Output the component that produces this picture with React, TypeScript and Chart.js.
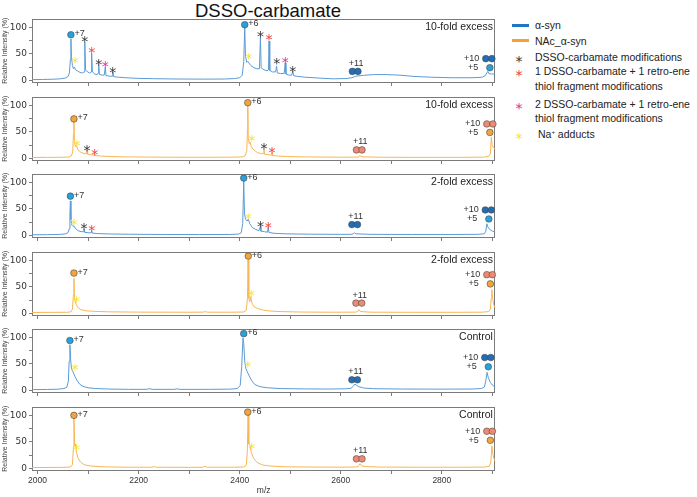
import { useEffect, useRef } from 'react';
import { Chart, registerables } from 'chart.js';

Chart.register(...registerables);

type Pt = [number, number];
type Star = [number, number, 'mod' | 'retro1' | 'retro2' | 'na'];
type Charge = { z: string; mz: number[]; y: number; side: 'right' | 'above' | 'left' };

// axis ranges and labelled ticks
const MZ_MIN = 1989;
const MZ_MAX = 2906;
const MZ_LABELLED = [2000, 2200, 2400, 2600, 2800];
const INTENSITY_LABELLED = [0, 50, 100];

// spectra: [m/z, relative intensity %]
const SPEC_ASYN_10X: Pt[] = [
  [1989, 1.5], [2010, 1.8], [2030, 2.2], [2045, 3], [2055, 4.5], [2060, 7], [2063, 14], [2065, 40], [2066, 78],
  [2067, 45], [2069, 28], [2071, 22], [2073, 25], [2075, 20], [2079, 18], [2084, 15], [2089, 14], [2092, 16],
  [2093.5, 72], [2095, 20], [2099, 16], [2103, 14], [2106, 16], [2107, 51], [2108.5, 16], [2113, 12], [2118, 11],
  [2120, 14], [2121, 30], [2122.5, 11], [2128, 10], [2132, 10], [2134, 25], [2135.5, 9], [2142, 8], [2148, 8],
  [2149, 16], [2150.5, 7], [2160, 6], [2175, 5], [2195, 4], [2230, 3.2], [2280, 2.6], [2330, 2.4], [2370, 2.6],
  [2390, 3.5], [2400, 5], [2405, 10], [2408, 35], [2410, 100], [2411.5, 45], [2414, 34], [2416, 36], [2418, 33],
  [2422, 28], [2428, 24], [2434, 22], [2439, 22], [2441, 82], [2442.5, 24], [2448, 20], [2454, 18], [2457, 20],
  [2458, 74], [2459.5, 19], [2465, 16], [2471, 16], [2473, 27], [2474.5, 14], [2481, 13], [2488, 13], [2490, 33],
  [2491.5, 12], [2497, 10], [2503, 10], [2505, 18], [2506.5, 9], [2515, 7.5], [2530, 6], [2555, 4.5], [2585, 3],
  [2610, 3.5], [2622, 5], [2630, 8], [2645, 9.5], [2665, 11], [2690, 11], [2715, 10], [2745, 7.5], [2780, 6],
  [2820, 5], [2860, 5], [2880, 6], [2886, 9], [2889, 14], [2891, 17], [2893, 13], [2898, 12], [2906, 12],
];
const SPEC_NAC_10X: Pt[] = [
  [1989, 1.8], [2020, 2], [2050, 2.2], [2062, 2.8], [2067, 5], [2069.5, 12], [2071, 45], [2072, 70], [2073, 32],
  [2075, 22], [2077, 24], [2080, 16], [2085, 12], [2092, 9], [2097, 9], [2098, 16], [2099, 8], [2106, 7],
  [2112, 6], [2113, 8], [2114, 5.5], [2125, 4.5], [2145, 3.5], [2180, 2.8], [2250, 2.3], [2320, 2.2], [2380, 2.3],
  [2405, 2.8], [2411, 5], [2414, 15], [2415.5, 55], [2416, 100], [2417, 38], [2419, 28], [2420.5, 31], [2423, 22],
  [2428, 16], [2435, 11], [2443, 9], [2447, 9], [2448, 17.6], [2449, 8], [2456, 7], [2463, 6], [2464, 11],
  [2465, 5.5], [2475, 4.5], [2495, 3.5], [2530, 2.8], [2600, 2.3], [2634, 2.5], [2638, 5], [2642, 3], [2680, 2.2],
  [2760, 2], [2840, 2], [2885, 2.5], [2893, 4], [2896, 9], [2898, 40], [2899.5, 26], [2902, 20], [2906, 18],
];
const SPEC_ASYN_2X: Pt[] = [
  [1989, 1.2], [2020, 1.4], [2045, 2], [2055, 2.8], [2060, 5], [2062.5, 12], [2064, 40], [2065, 65], [2066, 30],
  [2068, 19], [2070, 17], [2072, 18], [2075, 13], [2080, 9], [2086, 7], [2091, 7], [2092, 12], [2093, 6],
  [2100, 5], [2106, 5], [2107, 9], [2108, 4.5], [2118, 3.5], [2140, 2.8], [2180, 2.2], [2250, 1.8], [2320, 1.6],
  [2380, 1.8], [2398, 2.5], [2403, 5], [2406, 22], [2408, 103], [2409.5, 40], [2412, 30], [2415, 27], [2417, 31],
  [2420, 22], [2425, 15], [2432, 11], [2438, 9], [2441, 17], [2442, 8], [2449, 7], [2455, 6], [2456.5, 15.5],
  [2458, 5.5], [2468, 4], [2490, 3], [2540, 2.3], [2600, 2], [2620, 2], [2625, 3], [2627, 5], [2630, 3],
  [2660, 2], [2740, 1.8], [2820, 1.8], [2870, 2], [2884, 3], [2887, 8], [2889, 22], [2891, 16], [2895, 11],
  [2900, 8], [2906, 6],
];
const SPEC_NAC_2X: Pt[] = [
  [1989, 1.8], [2030, 2], [2060, 2.2], [2066, 3], [2069, 8], [2071, 35], [2072, 66], [2073, 30], [2075, 20],
  [2077, 16], [2080, 11], [2086, 7], [2095, 5], [2110, 4], [2140, 3], [2200, 2.4], [2300, 2.2], [2328, 2.4],
  [2332, 3.5], [2336, 2.3], [2380, 2.2], [2408, 2.6], [2413, 6], [2415.5, 30], [2416.5, 101], [2418, 28],
  [2420, 22], [2422, 32], [2424, 20], [2428, 13], [2436, 9], [2447, 6], [2460, 4.5], [2480, 3.5], [2520, 2.6],
  [2580, 2.2], [2630, 2.4], [2634, 4], [2636, 7], [2639, 3.5], [2660, 2.3], [2740, 2.1], [2820, 2.1], [2880, 2.3],
  [2893, 3.5], [2896, 8], [2898, 30], [2899, 44.6], [2900.5, 28], [2903, 15], [2906, 10],
];
const SPEC_ASYN_CTRL: Pt[] = [
  [1989, 1.5], [2020, 1.8], [2040, 2.3], [2052, 3.5], [2058, 6], [2061, 18], [2062.5, 55], [2064, 86],
  [2065.5, 58], [2067, 42], [2069, 37], [2071, 33], [2074, 26], [2078, 19], [2083, 12], [2090, 7.5], [2100, 5],
  [2115, 3.5], [2140, 2.6], [2180, 2], [2215, 2], [2222, 3.2], [2228, 2], [2270, 2], [2276, 3], [2282, 1.9],
  [2340, 2], [2380, 2.4], [2395, 3.5], [2401, 9], [2404, 45], [2406.5, 99], [2408, 88], [2410, 55], [2412, 42],
  [2415, 35], [2419, 27], [2424, 18], [2430, 11], [2440, 7], [2455, 5], [2480, 3.5], [2530, 2.8], [2580, 2.6],
  [2610, 3], [2620, 4], [2625, 8], [2628, 12], [2631, 10], [2636, 7], [2645, 4.5], [2665, 3.2], [2720, 2.6],
  [2800, 2.4], [2860, 2.6], [2878, 3.5], [2884, 6], [2887, 18], [2889.5, 34], [2892, 24], [2896, 15], [2900, 10],
  [2906, 6],
];
const SPEC_NAC_CTRL: Pt[] = [
  [1989, 1.6], [2030, 1.8], [2060, 2.2], [2066, 3], [2069, 7], [2071, 40], [2072, 95], [2073.5, 42], [2075, 46],
  [2077, 30], [2080, 20], [2085, 12], [2092, 7], [2105, 4.5], [2130, 3], [2180, 2.2], [2226, 2.2], [2231, 3.5],
  [2236, 2.2], [2300, 2], [2326, 2.2], [2331, 3.8], [2336, 2.2], [2390, 2.3], [2408, 2.6], [2413, 6], [2415, 30],
  [2416.5, 100], [2418, 46], [2420, 44], [2423, 30], [2428, 18], [2435, 11], [2445, 6.5], [2460, 4.5], [2490, 3],
  [2560, 2.4], [2620, 2.4], [2634, 3], [2638, 9], [2641, 5], [2648, 3.5], [2680, 2.5], [2760, 2.2], [2840, 2.2],
  [2885, 2.5], [2894, 4], [2897, 12], [2899, 42.6], [2901, 27], [2904, 16], [2906, 12],
];

// modification markers: [m/z, height, kind]
const STARS_ASYN_10X: Star[] = [
  [2074, 40.5, 'na'], [2093.5, 80, 'mod'], [2107, 60, 'retro1'], [2121, 36, 'mod'], [2134, 32, 'retro2'],
  [2149, 22, 'mod'], [2418, 48.5, 'na'], [2441, 90, 'mod'], [2458, 83, 'retro1'], [2473.5, 37.6, 'mod'],
  [2490, 41, 'retro2'], [2505, 24, 'mod'],
];
const STARS_NAC_10X: Star[] = [
  [2078, 30, 'na'], [2098, 22, 'mod'], [2113, 14, 'retro1'], [2424, 40, 'na'], [2448, 25, 'mod'], [2464, 17, 'retro1'],
];
const STARS_ASYN_2X: Star[] = [
  [2072, 26.5, 'na'], [2092, 20, 'mod'], [2107, 15.5, 'retro1'], [2417, 39, 'na'], [2441, 23.5, 'mod'],
  [2456.5, 22, 'retro1'],
];
const STARS_NAC_2X: Star[] = [[2077, 29, 'na'], [2423, 40, 'na']];
const STARS_ASYN_CTRL: Star[] = [[2074, 46, 'na'], [2416, 52.5, 'na']];
const STARS_NAC_CTRL: Star[] = [[2077, 42.6, 'na'], [2424, 44.6, 'na']];

// charge-state markers (two circles = dimer)
const CHARGES_ASYN_10X: Charge[] = [
  { z: '+7', mz: [2066], y: 86, side: 'right' }, { z: '+6', mz: [2410], y: 105, side: 'right' },
  { z: '+11', mz: [2623, 2634], y: 17, side: 'above' }, { z: '+10', mz: [2887, 2899], y: 41, side: 'left' },
  { z: '+5', mz: [2895], y: 24, side: 'left' },
];
const CHARGES_NAC_10X: Charge[] = [
  { z: '+7', mz: [2072], y: 74.5, side: 'right' }, { z: '+6', mz: [2416], y: 105, side: 'right' },
  { z: '+11', mz: [2631, 2642], y: 16, side: 'above' }, { z: '+10', mz: [2889, 2901], y: 65, side: 'left' },
  { z: '+5', mz: [2895], y: 49, side: 'left' },
];
const CHARGES_ASYN_2X: Charge[] = [
  { z: '+7', mz: [2065], y: 74, side: 'right' }, { z: '+6', mz: [2408], y: 108, side: 'right' },
  { z: '+11', mz: [2622, 2633], y: 20.4, side: 'above' }, { z: '+10', mz: [2886, 2898], y: 48, side: 'left' },
  { z: '+5', mz: [2893], y: 31, side: 'left' },
];
const CHARGES_NAC_2X: Charge[] = [
  { z: '+7', mz: [2072], y: 76, side: 'right' }, { z: '+6', mz: [2417], y: 108, side: 'right' },
  { z: '+11', mz: [2630, 2641.5], y: 19.4, side: 'above' }, { z: '+10', mz: [2889, 2900], y: 73, side: 'left' },
  { z: '+5', mz: [2896], y: 55.6, side: 'left' },
];
const CHARGES_ASYN_CTRL: Charge[] = [
  { z: '+7', mz: [2064], y: 94, side: 'right' }, { z: '+6', mz: [2408], y: 107, side: 'right' },
  { z: '+11', mz: [2622, 2633], y: 20, side: 'above' }, { z: '+10', mz: [2885, 2897], y: 62, side: 'left' },
  { z: '+5', mz: [2892], y: 44.5, side: 'left' },
];
const CHARGES_NAC_CTRL: Charge[] = [
  { z: '+7', mz: [2072], y: 100, side: 'right' }, { z: '+6', mz: [2416], y: 106, side: 'right' },
  { z: '+11', mz: [2631, 2642], y: 18, side: 'above' }, { z: '+10', mz: [2889, 2900], y: 70, side: 'left' },
  { z: '+5', mz: [2896], y: 53, side: 'left' },
];

const PANEL_LABELS = ['10-fold excess', '10-fold excess', '2-fold excess', '2-fold excess', 'Control', 'Control'];
const LEGEND_SERIES = ['α-syn', 'NAc_α-syn'];
const LEGEND_MODS: { kind: Star[2]; lines: string[] }[] = [
  { kind: 'mod', lines: ['DSSO-carbamate modifications'] },
  { kind: 'retro1', lines: ['1 DSSO-carbamate + 1 retro-ene', 'thiol fragment modifications'] },
  { kind: 'retro2', lines: ['2 DSSO-carbamate + 1 retro-ene', 'thiol fragment modifications'] },
];

type Form = 'asyn' | 'nac';
const PANELS: { form: Form; spec: Pt[]; stars: Star[]; charges: Charge[] }[] = [
  { form: 'asyn', spec: SPEC_ASYN_10X, stars: STARS_ASYN_10X, charges: CHARGES_ASYN_10X },
  { form: 'nac', spec: SPEC_NAC_10X, stars: STARS_NAC_10X, charges: CHARGES_NAC_10X },
  { form: 'asyn', spec: SPEC_ASYN_2X, stars: STARS_ASYN_2X, charges: CHARGES_ASYN_2X },
  { form: 'nac', spec: SPEC_NAC_2X, stars: STARS_NAC_2X, charges: CHARGES_NAC_2X },
  { form: 'asyn', spec: SPEC_ASYN_CTRL, stars: STARS_ASYN_CTRL, charges: CHARGES_ASYN_CTRL },
  { form: 'nac', spec: SPEC_NAC_CTRL, stars: STARS_NAC_CTRL, charges: CHARGES_NAC_CTRL },
];

// styling
const LINE_COLOR: Record<Form, string> = { asyn: '#5b9bd6', nac: '#f8b555' };
const LEGEND_COLOR: Record<Form, string> = { asyn: '#1f77c4', nac: '#f7a035' };
const MONOMER_FILL: Record<Form, string> = { asyn: '#27a0dc', nac: '#f3a43a' };
const DIMER_FILL: Record<Form, string> = { asyn: '#1f6eb6', nac: '#ef8a72' };
const STAR_COLOR: Record<Star[2], string> = { mod: '#333333', retro1: '#f23b3b', retro2: '#e5279a', na: '#f5e23a' };
const SANS = '"Liberation Sans", Arial, sans-serif';
const PANEL_TOPS = [17, 95, 172, 250, 327, 405];
const PAD_TOP = 5;
const CANVAS_W = 500;
const PLOT_H = 65;

function marksPlugin(panel: (typeof PANELS)[number], label: string) {
  return {
    id: 'spectrumMarks',
    beforeDatasetsDraw(chart: Chart) {
      const { ctx, chartArea: a } = chart;
      ctx.save();
      ctx.strokeStyle = '#7b7b7b';
      ctx.lineWidth = 1;
      ctx.strokeRect(Math.round(a.left) + 0.5, Math.round(a.top) + 0.5, Math.round(a.right - a.left) - 1, Math.round(a.bottom - a.top));
      ctx.restore();
    },
    afterDatasetsDraw(chart: Chart) {
      const { ctx, chartArea: a } = chart;
      const x = chart.scales.x;
      const y = chart.scales.y;
      ctx.save();
      // asterisks for modifications
      ctx.font = '14px "DejaVu Sans"';
      ctx.textAlign = 'center';
      ctx.textBaseline = 'alphabetic';
      for (const [mz, v, kind] of panel.stars) {
        ctx.fillStyle = STAR_COLOR[kind];
        ctx.fillText('*', x.getPixelForValue(mz), y.getPixelForValue(v) + 8);
      }
      // charge-state labels
      ctx.font = `9px ${SANS}`;
      ctx.fillStyle = '#333';
      for (const c of panel.charges) {
        const px = c.mz.map((m) => x.getPixelForValue(m));
        const py = y.getPixelForValue(c.y);
        if (c.side === 'right') {
          ctx.textAlign = 'left';
          ctx.textBaseline = 'middle';
          ctx.fillText(c.z, px[px.length - 1] + 3.5, py - 1);
        } else if (c.side === 'above') {
          ctx.textAlign = 'center';
          ctx.textBaseline = 'middle';
          ctx.fillText(c.z, (px[0] + px[px.length - 1]) / 2 + 1, py - 8);
        } else {
          ctx.textAlign = 'right';
          ctx.textBaseline = 'middle';
          ctx.fillText(c.z, px[0] - (c.mz.length > 1 ? 6.5 : 11.5), py);
        }
      }
      // condition label
      ctx.font = `10.5px ${SANS}`;
      ctx.fillStyle = '#222';
      ctx.textAlign = 'right';
      ctx.textBaseline = 'middle';
      ctx.fillText(label, a.right - 2.5, a.top + 7.5);
      ctx.restore();
    },
  };
}

function SpectrumPanel({ index }: { index: number }) {
  const ref = useRef<HTMLCanvasElement>(null);
  const last = index === PANELS.length - 1;
  const axisH = last ? 27 : 10;
  const height = PAD_TOP + PLOT_H + axisH;
  useEffect(() => {
    const panel = PANELS[index];
    const circles = panel.charges.flatMap((c) => c.mz.map((m) => ({ x: m, y: c.y, dimer: c.mz.length > 1 })));
    const chart = new Chart(ref.current!, {
      type: 'line',
      data: {
        datasets: [
          {
            data: circles.map((c) => ({ x: c.x, y: c.y })),
            showLine: false,
            pointRadius: 3.3,
            pointBackgroundColor: circles.map((c) => (c.dimer ? DIMER_FILL[panel.form] : MONOMER_FILL[panel.form])),
            pointBorderColor: '#4a4a4a',
            pointBorderWidth: 0.6,
            clip: false,
            order: 0,
          } as any,
          {
            data: panel.spec.map(([m, v]) => ({ x: m, y: v })),
            borderColor: LINE_COLOR[panel.form],
            borderWidth: 1,
            pointRadius: 0,
            tension: 0,
            order: 1,
          },
        ],
      },
      options: {
        animation: false,
        responsive: false,
        events: [],
        layout: { padding: { top: PAD_TOP, right: 4, left: 0, bottom: 0 } },
        plugins: { legend: { display: false }, tooltip: { enabled: false } },
        scales: {
          x: {
            type: 'linear',
            min: MZ_MIN,
            max: MZ_MAX,
            afterFit: (s: any) => {
              s.height = axisH;
            },
            ticks: {
              stepSize: 100,
              includeBounds: false,
              autoSkip: false,
              maxRotation: 0,
              padding: 2,
              color: '#333',
              font: { family: SANS, size: 8.5 },
              callback: (v: any) => (last && MZ_LABELLED.includes(v) ? String(v) : ''),
            },
            grid: { drawOnChartArea: false, tickLength: 4, color: '#7b7b7b' },
            border: { display: false },
            title: { display: last, text: 'm/z', color: '#333', font: { family: SANS, size: 8.5 }, padding: { top: 0, bottom: 1 } },
          },
          y: {
            min: -3,
            max: 115,
            afterFit: (s: any) => {
              s.width = 32;
            },
            ticks: {
              stepSize: 25,
              includeBounds: false,
              padding: 2,
              color: '#333',
              font: { family: '"DejaVu Sans"', size: 9 },
              callback: (v: any) => (INTENSITY_LABELLED.includes(v) ? String(v) : ''),
            },
            grid: { drawOnChartArea: false, tickLength: 3, color: '#7b7b7b' },
            border: { display: false },
            title: { display: true, text: 'Relative Intensity (%)', color: '#444', font: { family: SANS, size: 7 }, padding: { top: 1, bottom: 0 } },
          },
        },
      },
      plugins: [marksPlugin(panel, PANEL_LABELS[index])],
    });
    return () => chart.destroy();
  }, [index]);
  return (
    <canvas
      ref={ref}
      width={CANVAS_W}
      height={height}
      style={{ position: 'absolute', left: 0, top: PANEL_TOPS[index] - PAD_TOP, width: CANVAS_W, height }}
    />
  );
}

function Legend() {
  const text: React.CSSProperties = { position: 'absolute', left: 535, fontFamily: SANS, fontSize: 10.5, color: '#222', lineHeight: '14px', whiteSpace: 'nowrap' };
  const star = (kind: Star[2], cy: number) => (
    <span style={{ position: 'absolute', left: 513, top: cy - 6, width: 12, textAlign: 'center', fontFamily: '"DejaVu Sans"', fontSize: 14, lineHeight: '20px', color: STAR_COLOR[kind] }}>*</span>
  );
  const modRows = [57, 71, 103.5];
  return (
    <>
      {LEGEND_SERIES.map((name, i) => {
        const cy = 25 + i * 15.5;
        const form: Form = i === 0 ? 'asyn' : 'nac';
        return (
          <div key={name}>
            <div style={{ position: 'absolute', left: 512, top: cy - 1.5, width: 17, height: 3, background: LEGEND_COLOR[form] }} />
            <div style={{ ...text, top: cy - 7 }}>{name}</div>
          </div>
        );
      })}
      {LEGEND_MODS.map((m, i) => (
        <div key={m.kind}>
          {star(m.kind, modRows[i])}
          {m.lines.map((l, j) => (
            <div key={j} style={{ ...text, top: modRows[i] - 7 + j * 14.5 }}>{l}</div>
          ))}
        </div>
      ))}
      {star('na', 134)}
      <div style={{ ...text, left: 538, top: 134 - 7 }}>
        Na<sup style={{ fontSize: 6, verticalAlign: 'top', lineHeight: '10px' }}>+</sup> adducts
      </div>
    </>
  );
}

export default function App() {
  return (
    <div style={{ position: 'absolute', left: 0, top: 0, width: 697, height: 497, background: '#fff', overflow: 'hidden' }}>
      <div style={{ position: 'absolute', left: 0, top: 0, width: 536, textAlign: 'center', fontFamily: SANS, fontSize: 18.5, lineHeight: '21px', color: '#111' }}>
        DSSO-carbamate
      </div>
      {PANELS.map((_, i) => (
        <SpectrumPanel key={i} index={i} />
      ))}
      <Legend />
    </div>
  );
}
